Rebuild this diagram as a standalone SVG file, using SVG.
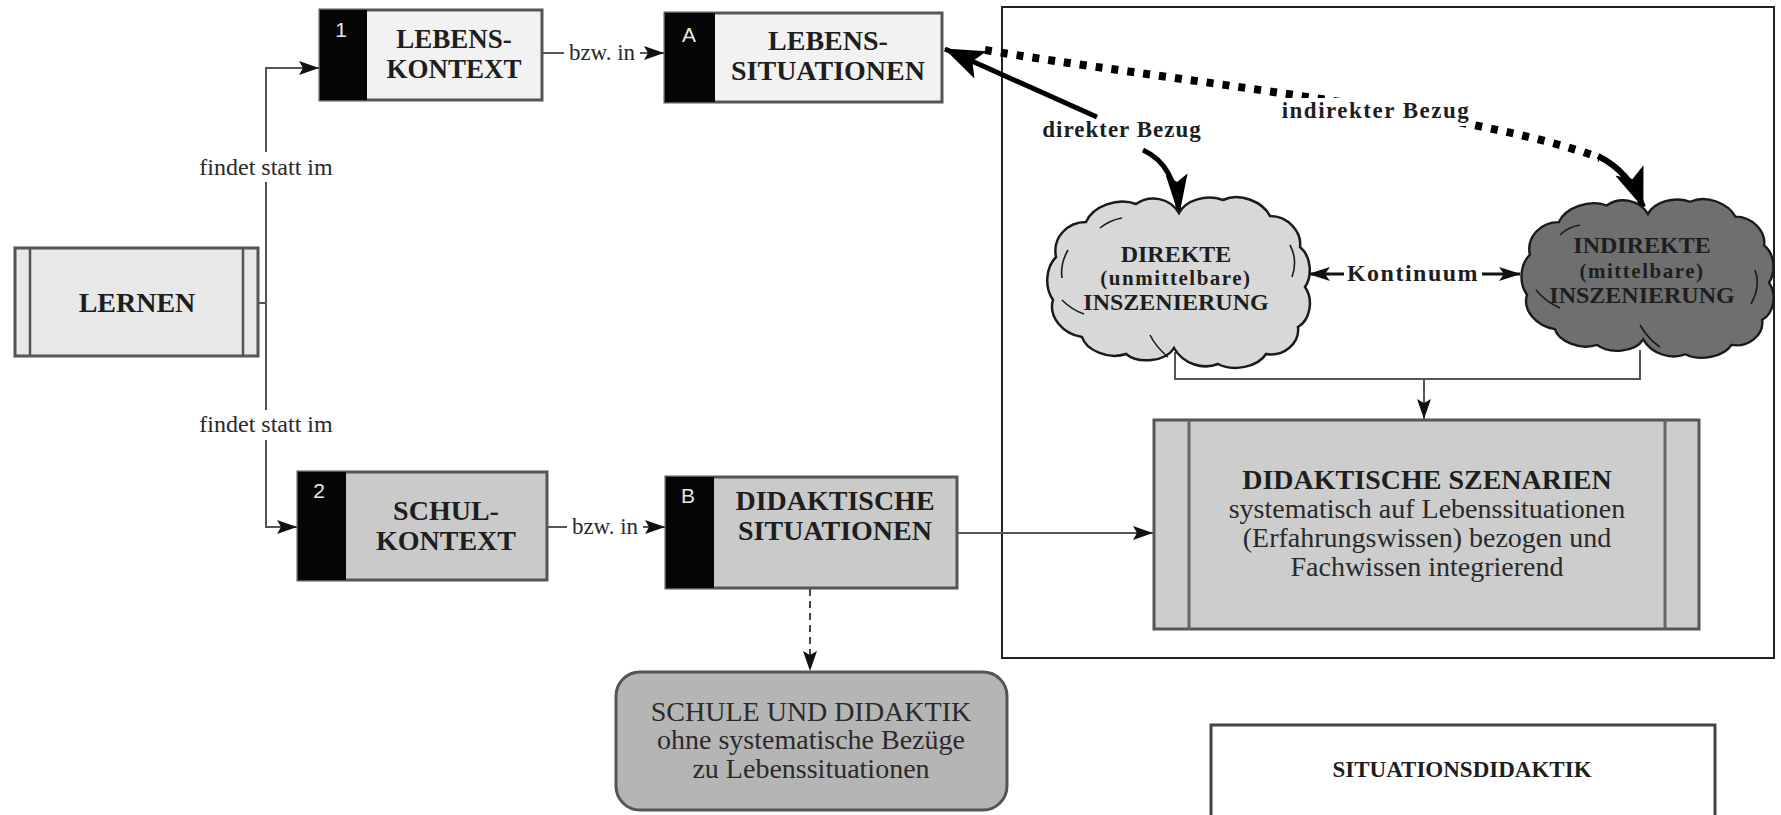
<svg xmlns="http://www.w3.org/2000/svg" width="1781" height="815" viewBox="0 0 1781 815">
<style>
.bx{stroke:#555;stroke-width:3}
.b{font-family:"Liberation Serif",serif;font-weight:bold;fill:#1e1e1e;text-anchor:middle}
.r{font-family:"Liberation Serif",serif;fill:#2a2a2a;text-anchor:middle}
.num{font-family:"Liberation Sans",sans-serif;font-size:21px;fill:#e8e8e8;text-anchor:middle}
.thin{fill:none;stroke:#555;stroke-width:2}
.cloud{stroke:#1a1a1a;stroke-width:2.5}
.deco{fill:none;stroke:#1a1a1a;stroke-width:1.6}
</style>
<defs>
<marker id="arr" markerUnits="userSpaceOnUse" markerWidth="20" markerHeight="14" refX="20" refY="7" orient="auto">
<path d="M0,0 L20,7 L0,14 L4,7 Z" fill="#111"/>
</marker>
<marker id="med" markerUnits="userSpaceOnUse" markerWidth="22" markerHeight="14" refX="21" refY="7" orient="auto-start-reverse">
<path d="M0,0 L22,7 L0,14 L5,7 Z" fill="#111"/>
</marker>
<marker id="big" markerUnits="userSpaceOnUse" markerWidth="40" markerHeight="30" refX="39" refY="15" orient="auto">
<path d="M0,0 L40,15 L0,30 L9,15 Z" fill="#000"/>
</marker>
<marker id="big2" markerUnits="userSpaceOnUse" markerWidth="42" markerHeight="22" refX="41" refY="11" orient="auto">
<path d="M0,0 L42,11 L0,22 L8,11 Z" fill="#000"/>
</marker>
<path id="cloudshape" d="M1,-69 C8,-82 28,-88 45,-82 C62,-90 85,-80 92,-66 C110,-66 124,-50 122,-35 C134,-25 134,-5 127,5 C136,18 132,38 120,45 C122,62 105,75 88,72 C80,85 55,90 40,82 C25,88 5,82 -4,66 C-12,80 -40,82 -52,72 C-70,78 -92,68 -96,55 C-115,52 -130,35 -125,18 C-134,5 -132,-15 -122,-25 C-126,-45 -110,-60 -92,-60 C-85,-76 -60,-85 -42,-78 C-28,-88 -8,-84 1,-69 Z"/>
</defs>
<rect width="1781" height="815" fill="#fff"/>

<g id="frame">
<rect x="1002" y="7" width="772" height="651" fill="none" stroke="#222" stroke-width="2"/>
</g>

<g id="connectors">
<path class="thin" d="M258,303 H266 V68 H319" marker-end="url(#arr)"/>
<path class="thin" d="M266,303 V527 H297" marker-end="url(#arr)"/>
<rect x="192" y="152" width="148" height="30" fill="#fff"/>
<text class="r" x="266" y="175" font-size="24">findet statt im</text>
<rect x="192" y="410" width="148" height="30" fill="#fff"/>
<text class="r" x="266" y="432" font-size="24">findet statt im</text>

<path class="thin" d="M542,53 H664" marker-end="url(#arr)"/>
<rect x="564" y="38" width="76" height="28" fill="#fff"/>
<text class="r" x="602" y="60" font-size="23">bzw. in</text>
<path class="thin" d="M547,527 H665" marker-end="url(#arr)"/>
<rect x="567" y="512" width="76" height="28" fill="#fff"/>
<text class="r" x="605" y="534" font-size="23">bzw. in</text>

<path class="thin" d="M957,533 H1153" marker-end="url(#arr)"/>
<path d="M810,589 V671" fill="none" stroke="#444" stroke-width="2" stroke-dasharray="7,5" marker-end="url(#arr)"/>

<path d="M1309,274 H1520" fill="none" stroke="#111" stroke-width="3" marker-start="url(#med)" marker-end="url(#med)"/>
<rect x="1344" y="256" width="138" height="30" fill="#fff"/>
<text class="b" x="1413" y="281" font-size="24" letter-spacing="1.5">Kontinuum</text>

<path class="thin" d="M1175,352 V379 H1640 V350"/>
<path class="thin" d="M1424,379 V419" marker-end="url(#arr)"/>

<path d="M1097,117 L945,49" fill="none" stroke="#000" stroke-width="5" marker-end="url(#big)"/>
<path d="M1143,150 Q1176,165 1179,215" fill="none" stroke="#000" stroke-width="5" marker-end="url(#big2)"/>
<text class="b" x="1122" y="137" font-size="23" letter-spacing="1">direkter Bezug</text>

<path d="M985,50 C1150,78 1480,112 1600,158" fill="none" stroke="#000" stroke-width="8" stroke-dasharray="7,9"/>
<path d="M1598,156 Q1630,172 1643,207" fill="none" stroke="#000" stroke-width="6" marker-end="url(#big)"/>
<rect x="1282" y="98" width="190" height="28" fill="#fff"/>
<text class="b" x="1376" y="118" font-size="23" letter-spacing="1.5">indirekter Bezug</text>
</g>

<g id="lernen">
<rect class="bx" x="15" y="248" width="243" height="108" fill="#e8e8e8"/>
<line x1="30" y1="248" x2="30" y2="356" stroke="#555" stroke-width="2.5"/>
<line x1="243" y1="248" x2="243" y2="356" stroke="#555" stroke-width="2.5"/>
<text class="b" x="137" y="312" font-size="28">LERNEN</text>
</g>

<g id="lebenskontext">
<rect class="bx" x="320" y="10" width="222" height="90" fill="#f2f2f2"/>
<rect x="320" y="10" width="47" height="90" fill="#050505"/>
<text class="num" x="341" y="37">1</text>
<text class="b" x="454" y="48" font-size="27">LEBENS-</text>
<text class="b" x="454" y="78" font-size="27">KONTEXT</text>
</g>

<g id="lebenssituationen">
<rect class="bx" x="665" y="13" width="277" height="89" fill="#f2f2f2"/>
<rect x="665" y="13" width="50" height="89" fill="#050505"/>
<text class="num" x="689" y="42">A</text>
<text class="b" x="828" y="50" font-size="28">LEBENS-</text>
<text class="b" x="828" y="80" font-size="28">SITUATIONEN</text>
</g>

<g id="schulkontext">
<rect class="bx" x="298" y="472" width="249" height="108" fill="#cacaca"/>
<rect x="298" y="472" width="48" height="108" fill="#050505"/>
<text class="num" x="319" y="498">2</text>
<text class="b" x="446" y="520" font-size="28">SCHUL-</text>
<text class="b" x="446" y="550" font-size="28">KONTEXT</text>
</g>

<g id="didaktische-situationen">
<rect class="bx" x="666" y="477" width="291" height="111" fill="#cacaca"/>
<rect x="666" y="477" width="48" height="111" fill="#050505"/>
<text class="num" x="688" y="503">B</text>
<text class="b" x="835" y="510" font-size="28">DIDAKTISCHE</text>
<text class="b" x="835" y="540" font-size="28">SITUATIONEN</text>
</g>

<g id="schule-didaktik">
<rect x="616" y="672" width="391" height="138" rx="24" fill="#b5b5b5" stroke="#555" stroke-width="3"/>
<text class="r" x="811" y="721" font-size="28">SCHULE UND DIDAKTIK</text>
<text class="r" x="811" y="749" font-size="28">ohne systematische Bezüge</text>
<text class="r" x="811" y="778" font-size="28">zu Lebenssituationen</text>
</g>

<g id="direkte">
<use href="#cloudshape" transform="translate(1178,282)" fill="#d8d8d8" class="cloud"/>
<path class="deco" d="M1068,250 q-8,14 -6,28 M1062,300 q10,10 22,14 M1290,245 q8,15 2,32 M1150,335 q6,12 18,22 M1100,228 q10,-8 22,-10"/>
<text class="b" x="1176" y="262" font-size="24">DIREKTE</text>
<text class="b" x="1176" y="285" font-size="21" letter-spacing="1.5">(unmittelbare)</text>
<text class="b" x="1176" y="310" font-size="24">INSZENIERUNG</text>
</g>

<g id="indirekte">
<use href="#cloudshape" transform="translate(1647,278) scale(0.96,0.93)" fill="#6f6f6f" class="cloud"/>
<path class="deco" d="M1536,290 q10,12 24,18 M1755,270 q6,16 -4,34 M1640,325 q8,14 20,22 M1560,235 q8,-8 20,-10"/>
<text class="b" x="1642" y="253" font-size="24" fill="#1a1a1a">INDIREKTE</text>
<text class="b" x="1642" y="278" font-size="21" letter-spacing="1.5">(mittelbare)</text>
<text class="b" x="1642" y="303" font-size="24">INSZENIERUNG</text>
</g>

<g id="szenarien">
<rect class="bx" x="1154" y="420" width="545" height="209" fill="#cdcdcd" stroke="#666"/>
<line x1="1189" y1="420" x2="1189" y2="629" stroke="#666" stroke-width="3"/>
<line x1="1665" y1="420" x2="1665" y2="629" stroke="#666" stroke-width="3"/>
<text class="b" x="1427" y="489" font-size="28">DIDAKTISCHE SZENARIEN</text>
<text class="r" x="1427" y="518" font-size="28">systematisch auf Lebenssituationen</text>
<text class="r" x="1427" y="547" font-size="28">(Erfahrungswissen) bezogen und</text>
<text class="r" x="1427" y="576" font-size="28">Fachwissen integrierend</text>
</g>

<g id="situationsdidaktik">
<rect x="1211" y="725" width="504" height="100" fill="#fff" stroke="#444" stroke-width="3"/>
<text class="b" x="1462" y="777" font-size="23">SITUATIONSDIDAKTIK</text>
</g>
</svg>
